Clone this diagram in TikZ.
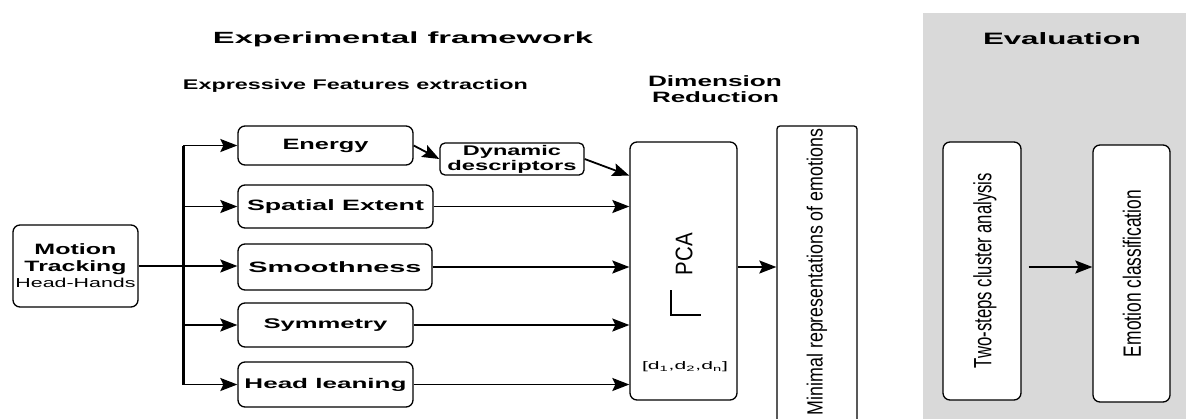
\documentclass[tikz,border=0pt]{standalone}
\usepackage{fontspec}
\setmainfont{Liberation Sans}
\usetikzlibrary{arrows.meta}
% text set to a given width, keeping its natural height
\newcommand{\fitw}[3]{\resizebox{#1pt}{\height}{\fontsize{#2}{#2}\selectfont #3}}
\newcommand{\fitb}[3]{\resizebox{#1pt}{\height}{\fontsize{#2}{#2}\selectfont\bfseries #3}}
\tikzset{
  box/.style={draw, line width=1.3pt, rounded corners=7pt, inner sep=0pt, fill=white},
  arr/.style={-{Stealth[length=17pt,width=13pt,inset=3pt]}, line width=1.8pt},
  lbl/.style={inner sep=0pt, outer sep=0pt},
}
\begin{document}
\begin{tikzpicture}[x=1pt, y=-1pt]
\path[use as bounding box, fill=white] (0,0) rectangle (1186,418);

% evaluation panel
\fill[black!15] (923,13) rectangle (1190,422);

% titles
\node[lbl, anchor=base] (tExp) at (403,43.3) {\fitb{380}{16.2}{Experimental framework}};
\node[lbl, anchor=base] (tFeat) at (355.5,89) {\fitb{345}{14}{Expressive Features extraction}};
\node[lbl, anchor=base] (tDim) at (715,86) {\fitb{134}{15}{Dimension}};
\node[lbl, anchor=base] (tRed) at (715.5,102) {\fitb{127}{15}{Reduction}};
\node[lbl, anchor=base] (tEval) at (1062,44) {\fitb{158}{16.5}{Evaluation}};

% input box
\node[box, minimum width=125pt, minimum height=82pt, align=center,
      font=\fontsize{15}{17}\selectfont] (mt) at (75.5,266)
  {\fitb{82}{15}{Motion}\\\fitb{102}{15}{Tracking}\\[-1pt]\fitw{120}{13}{Head-Hands}};

% feature boxes
\node[box, minimum width=175pt, minimum height=39pt] (energy) at (325.5,145.5) {\fitb{86}{15}{Energy}};
\node[box, minimum width=195pt, minimum height=43pt] (spatial) at (335.5,206.5) {\fitb{177}{15}{Spatial Extent}};
\node[box, minimum width=194pt, minimum height=46pt] (smooth) at (335,267) {\fitb{173}{15}{Smoothness}};
\node[box, minimum width=175pt, minimum height=44pt] (symm) at (325.5,325) {\fitb{124}{14}{Symmetry}};
\node[box, minimum width=175pt, minimum height=45pt] (headl) at (325.5,384.5) {\fitb{162}{14}{Head leaning}};
\node[box, rounded corners=5pt, minimum width=144pt, minimum height=32pt, align=center,
      font=\fontsize{14}{15}\selectfont] (dyn) at (512,159)
  {\fitb{98}{14}{Dynamic}\\\fitb{129}{14}{descriptors}};

% dimension reduction
\node[box, minimum width=107pt, minimum height=258pt] (pca) at (683.5,271) {};
\node[lbl, rotate=90] (pcaT) at (684,254) {\fitw{42}{24}{PCA}};
\draw[line width=1.2pt] (671,290) -- (671,315) -- (701,315);
\node[lbl] (dvec) at (685,367) {\fitw{86}{11}{[d\textsubscript{1},d\textsubscript{2},d\textsubscript{n}]}};

\node[box, rounded corners=3pt, minimum width=80pt, minimum height=304pt] (minimal) at (817,278) {};
\node[lbl, rotate=90] (minT) at (817,272) {\fitw{286}{22}{Minimal representations of emotions}};

% evaluation boxes
\node[box, minimum width=78pt, minimum height=258pt] (two) at (982,271) {};
\node[lbl, rotate=90] (twoT) at (985,270.5) {\fitw{195}{25}{Two-steps cluster analysis}};
\node[box, minimum width=77pt, minimum height=257pt] (emo) at (1131.5,273.5) {};
\node[lbl, rotate=90] (emoT) at (1132,273.5) {\fitw{167}{25}{Emotion classification}};

% distribution bus
\coordinate (busx) at (183,0);
\draw[line width=3pt] (energy.west -| busx) -- (headl.west -| busx);
\foreach \b in {energy,spatial,symm,headl}
  \draw[arr] (\b.west -| busx) -- (\b.west);
\draw[arr] (mt.east) -- (mt.east -| smooth.west);

% features into PCA
\draw[arr] (energy.east) -- (dyn.west);
\draw[arr] (dyn.east) -- (pca.west |- dyn.south);
\foreach \b in {spatial,smooth,symm,headl}
  \draw[arr] (\b.east) -- (\b.east -| pca.west);

\draw[arr] (pca.east |- smooth.east) -- (minimal.west |- smooth.east);
\draw[arr, shorten <=7pt] (two.east |- smooth.east) -- (emo.west |- smooth.east);
\end{tikzpicture}
\end{document}
